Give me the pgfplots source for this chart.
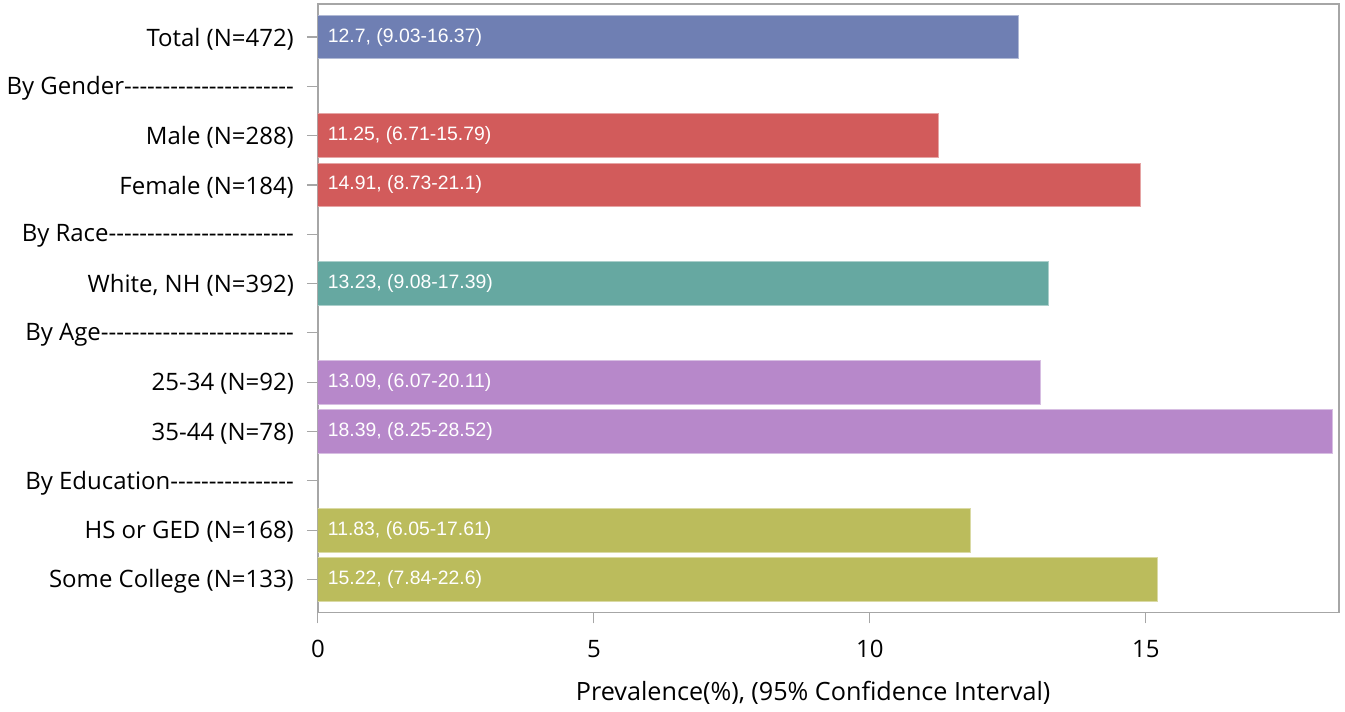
\documentclass[border=0pt]{standalone}
\usepackage{fontspec}
\setmainfont{Open Sans}
\newfontfamily\barfont{Liberation Sans}
\usepackage{pgfplots}
\pgfplotsset{compat=1.18}
\ExplSyntaxOn
\cs_new:Npn \dashes #1 {\prg_replicate:nn{#1}{\mbox{-}}}
\ExplSyntaxOff
\definecolor{cTot}{HTML}{6F7FB3}
\definecolor{cGen}{HTML}{D25B5B}
\definecolor{cRace}{HTML}{66A8A1}
\definecolor{cAge}{HTML}{B788CA}
\definecolor{cEdu}{HTML}{BBBC5C}
\definecolor{framec}{HTML}{A6A6A6}
\begin{document}
\begin{tikzpicture}
\begin{axis}[name=ax, scale only axis, width=511pt, height=304.5pt,
  xmin=0, xmax=18.5, ymin=-0.67, ymax=11.67, y dir=reverse,
  ytick={0,...,11},
  yticklabels={{Total (N=472)}, {By Gender\dashes{22}}, {Male (N=288)}, {Female (N=184)}, {By Race\dashes{24}}, {White, NH (N=392)}, {By Age\dashes{25}}, {25-34 (N=92)}, {35-44 (N=78)}, {By Education\dashes{16}}, {HS or GED (N=168)}, {Some College (N=133)\hspace{3pt}}},
  xtick={0,5,10,15},
  xtick pos=bottom, ytick pos=left,
  tick align=outside,
  axis line style={framec, line width=0.8pt},
  major tick length=5.5pt,
  tick style={framec, line width=0.6pt},
  every tick label/.append style={font=\fontsize{12}{14}\selectfont, text=black},
  yticklabel style={xshift=-3pt, yshift=-1pt},
  xticklabel style={yshift=-5pt},
  /pgf/number format/assume math mode=true,
  xlabel={Prevalence(\%), (95\% Confidence Interval)},
  xlabel style={font=\fontsize{12.6}{14}\selectfont, at={(axis description cs:0.485,0)}, anchor=north, yshift=-31pt},
]
\addplot[xbar, bar width=0.89, bar shift=0pt, fill=cTot, draw=cTot!55!white, line width=0.5pt] coordinates {(12.7,0)};
\addplot[xbar, bar width=0.89, bar shift=0pt, fill=cGen, draw=cGen!55!white, line width=0.5pt] coordinates {(11.25,2) (14.91,3)};
\addplot[xbar, bar width=0.89, bar shift=0pt, fill=cRace, draw=cRace!55!white, line width=0.5pt] coordinates {(13.23,5)};
\addplot[xbar, bar width=0.89, bar shift=0pt, fill=cAge, draw=cAge!55!white, line width=0.5pt] coordinates {(13.09,7) (18.39,8)};
\addplot[xbar, bar width=0.89, bar shift=0pt, fill=cEdu, draw=cEdu!55!white, line width=0.5pt] coordinates {(11.83,10) (15.22,11)};
\addplot[only marks, mark=none, nodes near coords, point meta=explicit symbolic,
  nodes near coords style={anchor=west, text=white, font=\barfont\fontsize{9.7}{11}\selectfont, xshift=1.5pt}]
  table[x=x, y=y, meta=label, row sep=\\] {
  x y label\\
  0 0 {12.7, (9.03-16.37)}\\
  0 2 {11.25, (6.71-15.79)}\\
  0 3 {14.91, (8.73-21.1)}\\
  0 5 {13.23, (9.08-17.39)}\\
  0 7 {13.09, (6.07-20.11)}\\
  0 8 {18.39, (8.25-28.52)}\\
  0 10 {11.83, (6.05-17.61)}\\
  0 11 {15.22, (7.84-22.6)}\\
  };
\end{axis}
\path (ax.south west) ++(-158.5pt,-48.5pt) rectangle ([xshift=3pt,yshift=2pt]ax.north east);
\end{tikzpicture}
\end{document}
